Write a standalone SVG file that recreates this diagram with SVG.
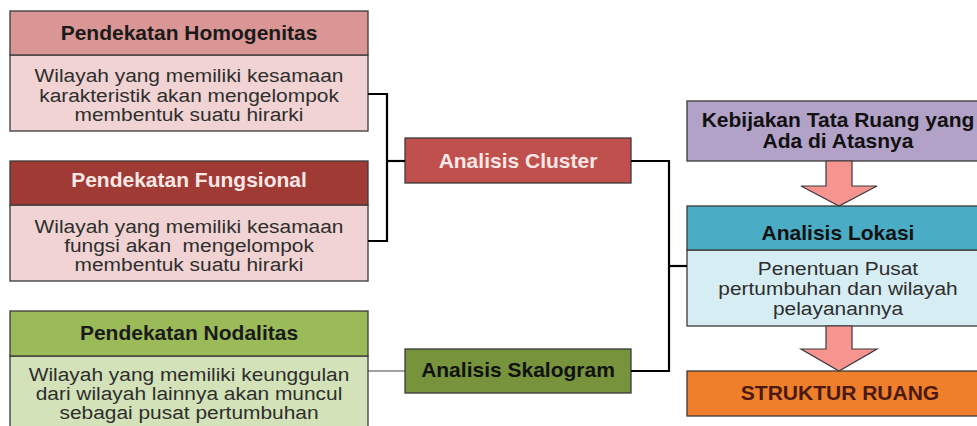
<svg xmlns="http://www.w3.org/2000/svg" width="977" height="426" viewBox="0 0 977 426">
<style>
.bx{stroke:#3a3a3a;stroke-width:1.3}
.h{font-family:"Liberation Sans",Arial,sans-serif;font-weight:bold;font-size:21px;text-anchor:middle}
.t{font-family:"Liberation Sans",Arial,sans-serif;font-size:19px;text-anchor:middle;fill:#2e2e2e}
.c{fill:none;stroke:#000;stroke-width:2.2}
.arr{fill:#f79490;stroke:#3a3a3a;stroke-width:1.2}
</style>
<rect width="977" height="426" fill="#fff"/>
<g id="homogenitas">
<rect class="bx" x="10" y="55" width="358" height="76" fill="#f0d3d2"/>
<rect class="bx" x="10" y="11" width="358" height="44" fill="#d99694"/>
<text class="h" x="189" y="40" fill="#1a1a1a">Pendekatan Homogenitas</text>
<text class="t" transform="translate(189 82) scale(1.1 1)">Wilayah yang memiliki kesamaan</text>
<text class="t" transform="translate(189 102) scale(1.1 1)">karakteristik akan mengelompok</text>
<text class="t" transform="translate(189 121) scale(1.1 1)">membentuk suatu hirarki</text>
</g>
<g id="fungsional">
<rect class="bx" x="10" y="205" width="358" height="76" fill="#f0d3d2"/>
<rect class="bx" x="10" y="161" width="358" height="44" fill="#a03a35"/>
<text class="h" x="189" y="187" fill="#fbe8e6">Pendekatan Fungsional</text>
<text class="t" transform="translate(189 233) scale(1.1 1)">Wilayah yang memiliki kesamaan</text>
<text class="t" transform="translate(189 252) scale(1.1 1)" xml:space="preserve">fungsi akan  mengelompok</text>
<text class="t" transform="translate(189 271) scale(1.1 1)">membentuk suatu hirarki</text>
</g>
<g id="nodalitas">
<rect class="bx" x="10" y="356" width="358" height="80" fill="#d3e2b8"/>
<rect class="bx" x="10" y="311" width="358" height="45" fill="#9bbb59"/>
<text class="h" x="189" y="340" fill="#1a1a1a">Pendekatan Nodalitas</text>
<text class="t" transform="translate(189 381) scale(1.1 1)">Wilayah yang memiliki keunggulan</text>
<text class="t" transform="translate(189 400) scale(1.1 1)">dari wilayah lainnya akan muncul</text>
<text class="t" transform="translate(189 419) scale(1.1 1)">sebagai pusat pertumbuhan</text>
</g>
<g id="cluster">
<rect class="bx" x="405" y="138" width="226" height="45" fill="#c0504d"/>
<text class="h" x="518" y="168" fill="#fbe8e6">Analisis Cluster</text>
</g>
<g id="skalogram">
<rect class="bx" x="405" y="349" width="226" height="44" fill="#77933c"/>
<text class="h" x="518" y="377" fill="#111">Analisis Skalogram</text>
</g>
<g id="kebijakan">
<rect class="bx" x="687" y="101" width="305" height="60" fill="#b3a2c7"/>
<text class="h" x="838" y="127" fill="#111">Kebijakan Tata Ruang yang</text>
<text class="h" x="838" y="148" fill="#111">Ada di Atasnya</text>
</g>
<g id="lokasi">
<rect class="bx" x="687" y="250" width="305" height="76" fill="#d6edf3"/>
<rect class="bx" x="687" y="206" width="305" height="44" fill="#4bacc6"/>
<text class="h" x="838" y="240" fill="#111">Analisis Lokasi</text>
<text class="t" transform="translate(838 275) scale(1.1 1)">Penentuan Pusat</text>
<text class="t" transform="translate(838 295) scale(1.1 1)">pertumbuhan dan wilayah</text>
<text class="t" transform="translate(838 315) scale(1.1 1)">pelayanannya</text>
</g>
<g id="struktur">
<rect class="bx" x="687" y="371" width="305" height="45" fill="#ef7f2a"/>
<text class="h" x="840" y="400" fill="#4a1a10">STRUKTUR RUANG</text>
</g>
<g id="connectors">
<polyline class="c" points="368,94 387,94 387,241 368,241"/>
<line class="c" x1="387" y1="161" x2="405" y2="161"/>
<polyline class="c" points="631,161 669,161 669,371 631,371"/>
<line class="c" x1="669" y1="266" x2="687" y2="266"/>
<line x1="368" y1="371" x2="405" y2="371" stroke="#444" stroke-width="1"/>
<polygon class="arr" points="826,161 852,161 852,186 877,186 839,206 801,186 826,186"/>
<polygon class="arr" points="826,326 852,326 852,349 877,349 839,371 801,349 826,349"/>
</g>
</svg>
